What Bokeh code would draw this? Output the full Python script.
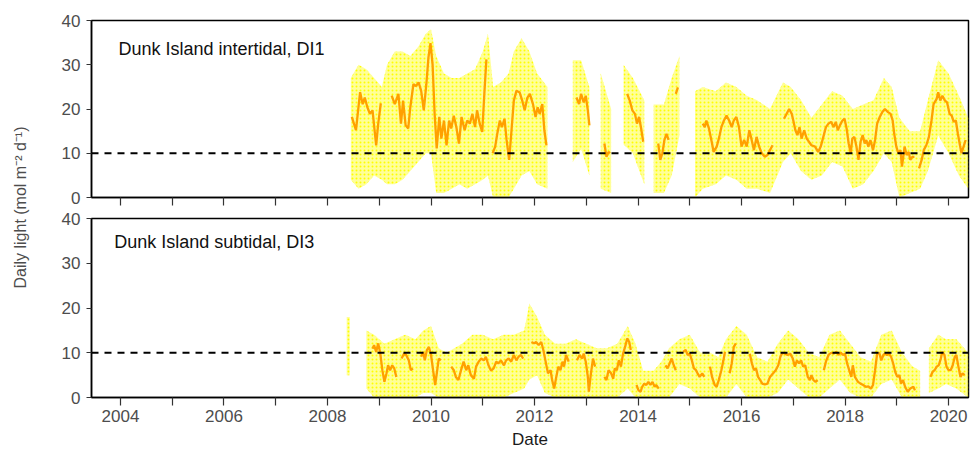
import math
from bokeh.plotting import figure
from bokeh.layouts import row, column
from bokeh.models import Range1d, FixedTicker, Span, Label, CustomLabelingPolicy
from bokeh.embed import file_html
from bokeh.resources import INLINE
from bokeh.core.properties import value

NaN = float("nan")

# ---------------- data (decimal years, mol m-2 d-1) ----------------
year_ticks = [2004, 2006, 2008, 2010, 2012, 2014, 2016, 2018, 2020]
year_minor = [2005, 2007, 2009, 2011, 2013, 2015, 2017, 2019]
y_ticks = [0, 10, 20, 30, 40]
threshold = 10

# DI1 intertidal: spread of daily values (low / high envelope)
top_band_t = [2008.45, 2008.6, 2008.75, 2008.9, 2009.05, 2009.15, 2009.3, 2009.45, 2009.6, 2009.75, 2009.9, 2010.0,
              2010.1, 2010.25, 2010.4, 2010.55, 2010.7, 2010.85, 2011.0, 2011.1, 2011.2, 2011.35, 2011.5, 2011.6,
              2011.75, 2011.9, 2012.05, 2012.25, NaN,
              2012.74, 2012.9, 2013.06, NaN,
              2013.28, 2013.48, NaN,
              2013.72, 2013.9, 2014.12, NaN,
              2014.3, 2014.5, 2014.65, 2014.8, NaN,
              2015.1, 2015.25, 2015.5, 2015.7, 2015.9, 2016.1, 2016.3, 2016.55, 2016.8, 2016.95, 2017.15, 2017.35,
              2017.55, 2017.75, 2017.95, 2018.15, 2018.35, 2018.55, 2018.75, 2018.9, 2019.05, 2019.25, 2019.45,
              2019.6, 2019.8, 2020.0, 2020.2, 2020.38]
top_band_lo = [4, 2, 3, 5, 4, 3, 3, 4, 6, 8, 10, 10,
               1, 1, 2, 3, 2, 3, 4, 5, 0, 0, 0, 2,
               5, 6, 3, 2, NaN,
               8, 11, 5, NaN,
               2, 1, NaN,
               12, 10, 3, NaN,
               1, 1, 5, 14, NaN,
               0, 2, 3, 5, 4, 2, 2, 1, 8, 10, 6, 4,
               5, 8, 7, 2, 3, 6, 10, 8, 0, 1, 2,
               6, 14, 10, 5, 2]
top_band_hi = [27, 30, 29, 27, 25, 30, 33, 33, 32, 34, 37, 38,
               32, 28, 27, 27, 28, 29, 33, 37, 25, 26, 28, 33,
               36, 33, 28, 25, NaN,
               31, 31, 25, NaN,
               28, 20, NaN,
               30, 27, 22, NaN,
               21, 21, 27, 32, NaN,
               24, 25, 24, 26, 25, 23, 22, 20, 26, 25, 22, 18,
               21, 24, 23, 20, 21, 22, 27, 25, 18, 15, 15,
               22, 31, 28, 23, 18]

# DI1 intertidal: smoothed series
top_line_t = [2008.47, 2008.55, 2008.63, 2008.68, 2008.72, 2008.77, 2008.82, 2008.87, 2008.94, 2008.98, 2009.03, NaN,
              2009.24, 2009.30, 2009.37, 2009.42, 2009.46, 2009.51, 2009.56, 2009.60, 2009.66, 2009.71, 2009.76,
              2009.81, 2009.86, 2009.91, 2009.95, 2009.99, 2010.03, 2010.07, 2010.11, 2010.16, 2010.20, 2010.25,
              2010.30, 2010.35, 2010.39, 2010.44, 2010.49, 2010.54, 2010.59, 2010.65, 2010.70, 2010.75, 2010.80,
              2010.85, 2010.89, 2010.94, 2010.99, 2011.03, 2011.07, NaN,
              2011.19, 2011.24, 2011.28, 2011.33, 2011.37, 2011.42, 2011.46, 2011.51, 2011.55, 2011.60, 2011.65,
              2011.71, 2011.76, 2011.81, 2011.86, 2011.91, 2011.97, 2012.02, 2012.06, 2012.10, 2012.15, 2012.19,
              2012.23, NaN,
              2012.81, 2012.86, 2012.90, 2012.95, 2012.99, 2013.03, 2013.06, NaN,
              2013.35, 2013.39, 2013.43, 2013.46, NaN,
              2013.79, 2013.84, 2013.89, 2013.94, 2013.98, 2014.02, 2014.06, 2014.10, NaN,
              2014.39, 2014.43, 2014.47, 2014.51, 2014.55, 2014.59, NaN,
              2014.73, 2014.77, NaN,
              2015.25, 2015.29, 2015.32, 2015.37, 2015.43, 2015.46, 2015.52, 2015.57, 2015.61, 2015.66, 2015.71,
              2015.76, 2015.81, 2015.85, 2015.90, 2015.95, 2016.00, 2016.05, 2016.10, 2016.15, 2016.19, 2016.24,
              2016.29, 2016.34, 2016.39, 2016.45, 2016.50, 2016.55, 2016.60, NaN,
              2016.82, 2016.87, 2016.92, 2016.97, 2017.00, 2017.04, 2017.08, 2017.12, 2017.16, 2017.21, 2017.26,
              2017.35, 2017.42, 2017.48, 2017.53, 2017.58, 2017.63, 2017.68, 2017.73, 2017.78, 2017.82, 2017.86,
              2017.90, 2017.95, 2017.99, 2018.03, 2018.07, 2018.11, 2018.14, 2018.18, 2018.22, 2018.26, 2018.30,
              2018.34, 2018.38, 2018.41, 2018.45, 2018.49, 2018.54, 2018.58, 2018.62, 2018.67, 2018.72, 2018.77,
              2018.83, 2018.88, 2018.92, 2018.95, 2018.99, 2019.03, 2019.07, 2019.10, 2019.15, 2019.19, 2019.23,
              2019.26, 2019.30, 2019.34, NaN,
              2019.43, 2019.48, 2019.52, 2019.57, 2019.62, 2019.67, 2019.71, 2019.77, 2019.80, 2019.84, 2019.88,
              2019.93, 2019.97, 2020.02, 2020.06, 2020.10, 2020.14, 2020.18, 2020.22, 2020.25, 2020.29, 2020.33]
top_line_v = [18.2, 15.2, 23.8, 21.1, 22.6, 20.4, 18.9, 19.7, 11.8, 16.7, 21.3, NaN,
              23.0, 21.1, 23.4, 16.7, 21.9, 16.3, 15.6, 20.4, 25.6, 25.2, 26.0,
              24.1, 19.7, 25.6, 31.6, 34.9, 30.1, 18.9, 11.1, 18.2, 13.3, 17.4,
              11.8, 17.4, 15.6, 18.5, 15.9, 12.2, 18.2, 15.2, 17.4, 16.7, 18.9,
              15.9, 19.7, 16.7, 14.8, 23.4, 31.2, NaN,
              10.0, 11.5, 14.4, 17.4, 15.9, 17.8, 13.0, 8.5, 14.4, 21.9, 24.1,
              23.8, 22.0, 19.7, 22.5, 23.4, 21.1, 18.2, 20.4, 18.9, 21.1, 15.2,
              11.8, NaN,
              22.6, 21.1, 23.4, 21.5, 23.0, 19.7, 16.3, NaN,
              12.2, 9.2, 10.3, 10.0, NaN,
              23.4, 21.9, 19.7, 18.9, 16.7, 18.2, 15.6, 12.6, NaN,
              12.2, 8.5, 10.0, 13.0, 14.4, 13.0, NaN,
              23.4, 24.9, NaN,
              16.7, 15.9, 17.4, 15.6, 12.2, 10.3, 11.5, 13.7, 15.9, 17.4, 18.5,
              17.4, 15.9, 17.4, 18.2, 15.9, 11.5, 13.0, 11.5, 15.2, 13.3, 10.7,
              13.7, 11.5, 10.0, 9.2, 9.6, 10.7, 11.8, NaN,
              17.8, 18.9, 20.0, 18.9, 17.4, 15.2, 14.1, 15.9, 13.3, 15.2, 13.3,
              11.8, 11.5, 10.3, 11.5, 13.7, 15.9, 16.7, 17.1, 15.9, 17.1, 15.2,
              16.3, 17.4, 17.8, 15.6, 12.2, 10.0, 13.3, 13.7, 11.5, 8.5, 12.6,
              14.1, 12.2, 13.0, 11.5, 13.0, 10.7, 13.0, 16.7, 18.2, 19.3, 20.0,
              19.3, 18.9, 17.4, 14.4, 11.5, 10.0, 10.7, 7.0, 11.5, 9.6, 10.3,
              8.5, 9.2, 9.2, NaN,
              6.6, 8.5, 10.7, 11.8, 13.7, 17.4, 21.1, 22.3, 23.8, 21.9, 23.0,
              21.9, 21.5, 18.9, 18.5, 17.1, 17.4, 14.4, 11.8, 10.0, 11.5, 13.0]

# DI3 subtidal: spread of daily values (low / high envelope)
bot_band_t = [2008.37, 2008.43, NaN,
              2008.75, 2008.9, 2009.1, 2009.3, 2009.5, 2009.7, 2009.85, 2010.0, 2010.15, 2010.3, 2010.45, 2010.6,
              2010.8, 2011.0, 2011.2, 2011.4, 2011.6, 2011.8, 2011.9, 2012.05, 2012.2, 2012.4, 2012.6, 2012.8,
              2013.0, 2013.2, 2013.4, 2013.6, 2013.8, 2013.95, 2014.1, 2014.3, 2014.45, 2014.6, 2014.8, 2015.0,
              2015.2, 2015.4, 2015.55, 2015.7, 2015.9, 2016.1, 2016.3, 2016.5, 2016.7, 2016.9, 2017.1, 2017.3,
              2017.5, 2017.7, 2017.9, 2018.1, 2018.3, 2018.5, 2018.7, 2018.9, 2019.1, 2019.3, 2019.45, NaN,
              2019.62, 2019.8, 2019.95, 2020.15, 2020.38]
bot_band_lo = [5, 5, NaN,
               2, 0, 0, 0, 0, 0, 1, 1, 0, 0, 0, 0,
               0, 0, 0, 0, 1, 2, 4, 5, 1, 0, 0, 0,
               0, 0, 0, 0, 2, 0, 0, 0, 0, 0, 3, 2,
               0, 0, 0, 0, 3, 0, 0, 0, 1, 4, 2, 0,
               0, 2, 4, 1, 0, 0, 3, 4, 0, 0, 0, NaN,
               1, 2, 3, 2, 0]
bot_band_hi = [18, 18, NaN,
               15, 14, 12, 13, 14, 13, 15, 16, 11, 10, 11, 12,
               14, 14, 13, 14, 14, 15, 21, 18, 14, 12, 12, 13,
               12, 11, 11, 12, 16, 12, 6, 6, 8, 11, 13, 14,
               10, 10, 9, 13, 16, 14, 9, 8, 12, 15, 13, 10,
               9, 14, 15, 12, 9, 8, 14, 15, 10, 7, 6, NaN,
               11, 14, 13, 13, 10]

# DI3 subtidal: smoothed series
bot_line_t = [2008.87, 2008.90, 2008.94, 2008.98, 2009.02, 2009.06, 2009.10, 2009.14, 2009.17, 2009.21, 2009.25,
              2009.29, 2009.33, NaN,
              2009.43, 2009.48, 2009.52, 2009.57, 2009.61, 2009.65, NaN,
              2009.81, 2009.85, 2009.88, 2009.92, 2009.96, 2010.00, 2010.04, 2010.08, 2010.12, 2010.15, 2010.19, NaN,
              2010.39, 2010.44, 2010.48, 2010.53, 2010.58, 2010.63, 2010.68, 2010.72, 2010.77, 2010.83, 2010.87,
              2010.92, 2010.97, 2011.02, 2011.06, 2011.11, 2011.16, 2011.21, 2011.26, 2011.30, 2011.35, 2011.41,
              2011.45, 2011.50, 2011.55, 2011.60, 2011.65, 2011.69, 2011.74, 2011.78, NaN,
              2011.94, 2011.99, 2012.03, 2012.08, 2012.13, 2012.17, 2012.21, 2012.26, 2012.31, 2012.34, 2012.38,
              2012.42, 2012.46, 2012.50, 2012.54, 2012.57, 2012.61, 2012.66, NaN,
              2012.82, 2012.87, 2012.92, 2012.95, 2012.99, 2013.03, 2013.05, 2013.09, 2013.13, 2013.17, NaN,
              2013.35, 2013.39, 2013.43, 2013.48, 2013.52, 2013.55, 2013.59, 2013.63, 2013.67, 2013.71, 2013.75,
              2013.79, 2013.83, 2013.86, NaN,
              2013.97, 2014.01, 2014.05, 2014.08, 2014.12, 2014.16, 2014.20, 2014.24, 2014.28, 2014.32, 2014.35,
              2014.40, NaN,
              2014.53, 2014.57, 2014.61, 2014.65, 2014.69, 2014.73, NaN,
              2014.87, 2014.92, 2014.96, 2015.00, 2015.04, 2015.08, 2015.12, 2015.15, 2015.19, 2015.24, 2015.28, NaN,
              2015.39, 2015.43, 2015.48, 2015.52, 2015.56, 2015.61, 2015.65, 2015.68, NaN,
              2015.77, 2015.81, 2015.85, 2015.89, NaN,
              2016.16, 2016.20, 2016.24, 2016.28, 2016.32, 2016.36, 2016.40, 2016.45, 2016.50, 2016.55, 2016.61,
              2016.66, 2016.71, 2016.75, 2016.79, 2016.84, 2016.89, 2016.94, 2016.99, 2017.03, 2017.07, 2017.11,
              2017.15, 2017.19, 2017.23, 2017.28, 2017.32, 2017.35, 2017.39, 2017.43, 2017.47, NaN,
              2017.59, 2017.63, 2017.68, 2017.73, 2017.78, 2017.83, 2017.87, 2017.92, 2017.96, 2018.00, 2018.04,
              2018.08, 2018.12, 2018.15, 2018.19, 2018.25, 2018.30, 2018.35, 2018.40, 2018.45, 2018.50, 2018.54,
              2018.58, 2018.62, 2018.66, 2018.70, 2018.74, 2018.77, 2018.81, 2018.85, 2018.89, 2018.93, 2018.97,
              2019.01, 2019.05, 2019.08, 2019.12, 2019.16, 2019.21, 2019.26, 2019.32, 2019.35, NaN,
              2019.65, 2019.69, 2019.73, 2019.77, 2019.81, 2019.85, 2019.88, 2019.92, 2019.96, 2020.00, 2020.04,
              2020.08, 2020.12, 2020.15, 2020.19, 2020.23, 2020.27, 2020.31]
bot_line_v = [10.9, 11.7, 10.2, 12.1, 9.8, 6.1, 3.5, 5.4, 7.2, 6.1, 7.2,
              6.5, 4.6, NaN,
              8.7, 9.8, 9.5, 8.3, 6.1, 6.5, NaN,
              9.1, 10.2, 8.3, 10.6, 11.3, 9.5, 6.1, 2.8, 6.1, 8.7, 8.3, NaN,
              6.9, 6.1, 4.6, 3.9, 6.1, 8.0, 6.1, 7.2, 5.0, 4.2, 6.9,
              8.0, 8.7, 8.3, 9.1, 7.2, 6.0, 6.5, 8.0, 7.6, 8.3, 7.2,
              8.3, 8.7, 8.0, 9.5, 8.3, 9.1, 9.5, 8.7, NaN,
              12.4, 12.1, 12.4, 11.7, 12.4, 10.6, 8.3, 5.4, 6.1, 3.9, 2.0,
              4.6, 6.9, 6.1, 8.0, 6.9, 9.5, 8.0, NaN,
              8.3, 9.5, 8.7, 9.8, 8.0, 4.6, 1.3, 5.4, 8.7, 6.9, NaN,
              4.6, 3.9, 6.1, 5.4, 4.2, 6.5, 6.1, 8.3, 6.9, 9.8, 11.3,
              13.2, 12.4, 10.6, NaN,
              2.8, 1.6, 1.3, 2.4, 3.1, 2.8, 3.5, 2.8, 3.5, 2.4, 2.8,
              2.0, NaN,
              7.2, 6.5, 7.6, 8.7, 7.2, 6.1, NaN,
              10.2, 10.6, 9.5, 9.8, 8.3, 6.5, 6.1, 5.4, 4.6, 5.4, 4.6, NaN,
              6.9, 4.6, 2.8, 2.4, 3.9, 6.1, 8.3, 10.2, NaN,
              5.4, 7.6, 11.3, 12.1, NaN,
              9.8, 7.6, 6.1, 6.5, 4.6, 3.9, 3.1, 2.9, 3.1, 4.6, 5.4,
              6.1, 7.2, 9.1, 10.0, 9.8, 9.5, 9.8, 8.7, 6.9, 8.3, 7.6,
              8.3, 6.9, 7.2, 4.6, 3.9, 5.0, 3.9, 3.5, 3.9, NaN,
              6.1, 8.0, 9.5, 10.0, 9.8, 10.2, 9.5, 10.0, 9.5, 9.8, 7.6,
              6.1, 4.6, 7.2, 4.6, 3.5, 3.1, 2.8, 2.4, 2.5, 2.0, 2.8,
              6.1, 9.8, 10.0, 8.3, 9.5, 9.8, 9.5, 9.8, 9.1, 7.6, 5.7,
              4.6, 5.0, 3.1, 3.9, 2.4, 1.3, 2.0, 2.4, 1.6, NaN,
              4.6, 5.7, 6.1, 6.9, 7.2, 8.7, 10.2, 9.5, 6.9, 6.1, 6.1,
              7.2, 9.1, 9.5, 6.9, 4.6, 5.4, 5.0]

top_title = "Dunk Island intertidal, DI1"
bot_title = "Dunk Island subtidal, DI3"
y_label = "Daily light (mol m\u207b\u00b2 d\u207b\u00b9)"
x_label = "Date"

FONT = "Liberation Sans"
YELLOW = "#ffff00"
ORANGE = "#ffa000"


def runs(t):
    out, cur = [], []
    for i, x in enumerate(t):
        if isinstance(x, float) and math.isnan(x):
            if cur:
                out.append(cur)
            cur = []
        else:
            cur.append(i)
    if cur:
        out.append(cur)
    return out


x_range = Range1d(2003.44, 2020.385)


def panel(band_t, band_lo, band_hi, line_t, line_v, title, tx, ty, height, bt, bb, show_labels):
    p = figure(width=932, height=height, x_range=x_range, y_range=Range1d(0, 40),
               output_backend="svg", toolbar_location=None,
               min_border_left=53, min_border_right=2, min_border_top=bt, min_border_bottom=bb)
    p.grid.visible = False
    p.outline_line_color = "black"
    p.outline_line_width = 1.5
    p.background_fill_color = "white"
    p.border_fill_color = "white"

    for idx in runs(band_t):
        p.varea(x=[band_t[i] for i in idx], y1=[band_lo[i] for i in idx], y2=[band_hi[i] for i in idx],
                fill_color=YELLOW, fill_alpha=0.4, hatch_pattern="dot", hatch_color=YELLOW,
                hatch_scale=4, hatch_weight=2.6, hatch_alpha=1.0)
    p.line(line_t, line_v, line_color=ORANGE, line_width=2.3)
    p.add_layout(Span(location=threshold, dimension="width", line_color="black",
                      line_width=2, line_dash="7 6"))
    p.add_layout(Label(x=tx, y=ty, text=title, text_font=FONT, text_font_size="18px",
                       text_color="#111111", text_baseline="middle", text_align="left"))

    xa = p.xaxis[0]
    xa.ticker = FixedTicker(ticks=year_ticks, minor_ticks=year_minor)
    xa.major_tick_out = 8
    xa.major_tick_in = 0
    xa.minor_tick_out = 8
    xa.minor_tick_in = 0
    xa.axis_line_color = "black"
    xa.axis_line_width = 1.5
    xa.major_tick_line_color = "#333333"
    xa.minor_tick_line_color = "#333333"
    xa.major_tick_line_width = 1.2
    xa.minor_tick_line_width = 1.2
    xa.major_label_text_font = FONT
    xa.major_label_text_color = "#4d4d4d"
    if show_labels:
        xa.major_label_text_font_size = "17px"
        xa.major_label_standoff = 4
        xa.axis_label = x_label
        xa.axis_label_text_font = FONT
        xa.axis_label_text_font_size = "17px"
        xa.axis_label_text_font_style = "normal"
        xa.axis_label_text_color = "#1a1a1a"
        xa.axis_label_standoff = 5
    else:
        # ticks only: labels are suppressed by the labeling policy
        xa.major_label_text_font_size = "1px"
        xa.major_label_standoff = 0
        xa.major_label_policy = CustomLabelingPolicy(code="return []")

    ya = p.yaxis[0]
    ya.ticker = FixedTicker(ticks=y_ticks, minor_ticks=[])
    ya.major_tick_out = 5
    ya.major_tick_in = 0
    ya.axis_line_color = "black"
    ya.axis_line_width = 1.5
    ya.major_tick_line_color = "#333333"
    ya.major_label_text_font = FONT
    ya.major_label_text_font_size = "17px"
    ya.major_label_text_color = "#4d4d4d"
    ya.major_label_standoff = 6
    return p


top = panel(top_band_t, top_band_lo, top_band_hi, top_line_t, top_line_v,
            top_title, 2003.96, 33.5, 209, 20, 10, False)
bot = panel(bot_band_t, bot_band_lo, bot_band_hi, bot_line_t, bot_line_v,
            bot_title, 2003.88, 34.7, 243, 9, 55, True)

lab = figure(width=38, height=452, x_range=Range1d(0, 1), y_range=Range1d(0, 1),
             x_axis_type=None, y_axis_type=None, output_backend="svg", toolbar_location=None,
             min_border=0)
lab.grid.visible = False
lab.outline_line_color = None
lab.text(x=[0.53], y=[0.542], text=[y_label], angle=math.pi / 2, text_align="center",
         text_baseline="middle", text_font=value(FONT), text_font_size="16px", text_color="#4d4d4d")

layout = row(lab, column(top, bot, spacing=0), spacing=0)

with open("out.html", "w") as f:
    f.write(file_html(layout, INLINE))
